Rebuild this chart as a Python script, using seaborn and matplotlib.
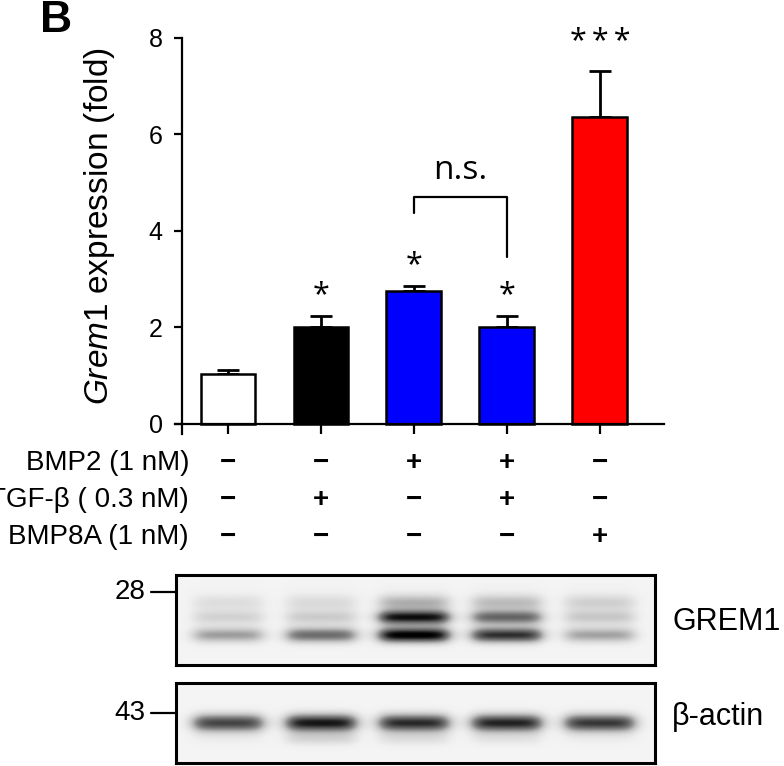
import numpy as np
import pandas as pd
import matplotlib
matplotlib.use('Agg')
import matplotlib.pyplot as plt
import matplotlib.transforms as mtransforms
import seaborn as sns

# DATA
groups = ['Ctrl', 'TGF-b', 'BMP2', 'BMP2+TGF-b', 'BMP8A']
fold_mean = [1.03, 2.01, 2.76, 2.0, 6.36]
fold_sem = [0.09, 0.23, 0.10, 0.23, 0.95]
bar_colors = ['#ffffff', '#000000', '#0000ff', '#0000ff', '#ff0000']
stars = ['', '*', '*', '*', '*\u2009*\u2009*']
yticks = [0, 2, 4, 6, 8]

row_labels = ['BMP2 (1 nM)', 'TGF-β ( 0.3 nM)', 'BMP8A (1 nM)']
bmp2 = ['−', '−', '+', '+', '−']
tgfb = ['−', '+', '−', '+', '−']
bmp8a = ['−', '−', '−', '−', '+']

# blot band darkness per lane
grem1_lower = [0.38, 0.55, 0.92, 0.75, 0.36]
grem1_upper = [0.15, 0.17, 0.80, 0.52, 0.18]
grem1_top = [0.09, 0.10, 0.26, 0.22, 0.14]
grem1_smear = [0.05, 0.06, 0.08, 0.08, 0.07]
actin_band = [0.70, 0.84, 0.78, 0.80, 0.74]
actin_lower = [0.04, 0.16, 0.12, 0.09, 0.04]

sns.set_theme(style='white')
plt.rcParams['font.family'] = ['Liberation Sans', 'DejaVu Sans']
plt.rcParams['mathtext.fontset'] = 'custom'
plt.rcParams['mathtext.it'] = 'Liberation Sans:italic'
plt.rcParams['mathtext.rm'] = 'Liberation Sans'
for k in ['text.color', 'axes.labelcolor', 'xtick.color', 'ytick.color']:
    plt.rcParams[k] = 'black'

fig = plt.figure(figsize=(7.84, 7.66), dpi=100)
W, H = 784, 766


def px_axes(x0, y0, x1, y1):
    return fig.add_axes([x0 / W, 1 - y1 / H, (x1 - x0) / W, (y1 - y0) / H])


ax = px_axes(175, 38, 664, 436)
df = pd.DataFrame({'group': groups, 'fold': fold_mean})
sns.barplot(data=df, x='group', y='fold', hue='group', palette=bar_colors,
            saturation=1, edgecolor='black', linewidth=1.8, width=0.59,
            errorbar=None, legend=False, ax=ax, zorder=2)
ax.errorbar(range(len(groups)), fold_mean, yerr=[np.zeros(len(groups)), fold_sem],
            fmt='none', ecolor='black', elinewidth=2, capsize=8, capthick=2, zorder=1)

ax.set_xlim(-0.57, 4.69)
ax.set_ylim(-0.25, 8)
ax.set_yticks(yticks)
ax.set_xticks(range(len(groups)))
ax.set_xticklabels([])
ax.set_xlabel('')
ax.set_ylabel('')
for s in ['top', 'right']:
    ax.spines[s].set_visible(False)
ax.spines['bottom'].set_position(('data', 0))
ax.spines['left'].set_position(('data', -0.495))
ax.spines['left'].set_bounds(-0.21, 8)
for s in ['left', 'bottom']:
    ax.spines[s].set_linewidth(1.6)
    ax.spines[s].set_color('black')
ax.tick_params(axis='y', direction='out', length=6, width=1.6, pad=8, labelsize=18,
               left=True, color='black', labelcolor='black')
ax.tick_params(axis='x', direction='out', length=7, width=1.6, bottom=True, color='black')
ax.patch.set_alpha(0)

fig.text(100 / W, 1 - 226 / H, r'$\it{Grem1}$ expression (fold)', rotation=90,
         ha='center', va='center', fontsize=24)
fig.text(40 / W, 1 - 21 / H, 'B', fontsize=32, fontweight='bold', ha='left', va='center')

# significance marks
star_pad = [0, 0.12, 0.12, 0.12, 0.3]
for i, s in enumerate(stars):
    if s:
        ax.text(i, fold_mean[i] + fold_sem[i] + star_pad[i], s, ha='center', va='bottom',
                fontsize=22, family=['Open Sans', 'DejaVu Sans'])
ax.plot([2, 2, 3, 3], [4.37, 4.7, 4.7, 3.46], color='black', lw=1.6)
ax.text(2.5, 5.26, 'n.s.', ha='center', va='center', fontsize=24,
        family=['Open Sans', 'DejaVu Sans'])

# treatment table
trans = mtransforms.blended_transform_factory(ax.transData, fig.transFigure)
row_y = [463, 500, 537]
for lab, vals, yp in zip(row_labels, [bmp2, tgfb, bmp8a], row_y):
    fig.text(189 / W, 1 - yp / H, lab, ha='right', va='center', fontsize=20)
    for i, v in enumerate(vals):
        ax.text(i, 1 - yp / H, v, transform=trans, ha='center', va='center',
                fontsize=20, fontweight='bold')


# western blots
def blot_image(ax_b, bands, nrows):
    xs = np.linspace(-0.559, 4.59, 480)
    ys = np.linspace(0, 1, nrows)
    img = np.full((nrows, xs.size), 0.09)
    for i in range(len(groups)):
        h = 1 / (1 + np.exp(-(xs - (i - 0.37)) / 0.05)) / (1 + np.exp((xs - (i + 0.37)) / 0.05))
        for vals, yc, sig in bands:
            img += vals[i] * np.outer(np.exp(-0.5 * ((ys - yc) / sig) ** 2), h)
    ax_b.imshow(np.clip(img, 0, 1), cmap='Greys', vmin=0, vmax=1, aspect='auto',
                extent=[-0.559, 4.59, 1, 0], interpolation='bilinear')
    ax_b.set_xlim(-0.559, 4.59)
    ax_b.set_ylim(1, 0)
    ax_b.set_xticks([])
    ax_b.set_yticks([])
    for s in ax_b.spines.values():
        s.set_visible(True)
        s.set_linewidth(2.2)
        s.set_color('black')


ax_g = px_axes(176, 575, 655, 665)
blot_image(ax_g, [(grem1_smear, 0.38, 0.15), (grem1_top, 0.30, 0.06),
                  (grem1_upper, 0.47, 0.055), (grem1_lower, 0.67, 0.06)], 90)
ax_a = px_axes(176, 683, 655, 763)
blot_image(ax_a, [(actin_band, 0.5, 0.08), (actin_lower, 0.7, 0.06)], 80)

for lab, yp in [('28', 592), ('43', 713)]:
    fig.text(145 / W, 1 - yp / H, lab, ha='right', va='center', fontsize=20)
    fig.add_artist(plt.Line2D([151 / W, 176 / W], [1 - yp / H, 1 - yp / H],
                              color='black', lw=1.6))
fig.text(672 / W, 1 - 622 / H, 'GREM1', ha='left', va='center', fontsize=22)
fig.text(672 / W, 1 - 717 / H, 'β-actin', ha='left', va='center', fontsize=22)

fig.savefig('out.png', dpi=100, facecolor='white')
